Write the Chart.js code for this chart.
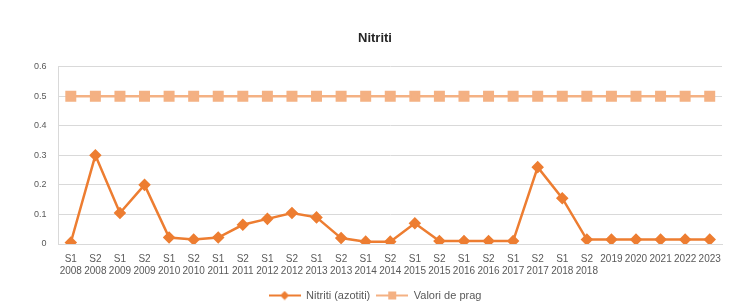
<!DOCTYPE html>
<html>
<head>
<meta charset="utf-8">
<script src="https://cdn.jsdelivr.net/npm/chart.js@4"></script>
<style>
  html, body { margin: 0; padding: 0; background: #fff; }
</style>
</head>
<body>
<canvas id="c" width="736" height="302"></canvas>
<script>
const periods = ['S1', 'S2', 'S1', 'S2', 'S1', 'S2', 'S1', 'S2', 'S1', 'S2', 'S1', 'S2',
  'S1', 'S2', 'S1', 'S2', 'S1', 'S2', 'S1', 'S2', 'S1', 'S2',
  '2019', '2020', '2021', '2022', '2023'];
const years = ['2008', '2008', '2009', '2009', '2010', '2010', '2011', '2011', '2012', '2012',
  '2013', '2013', '2014', '2014', '2015', '2015', '2016', '2016', '2017', '2017', '2018', '2018',
  '', '', '', '', ''];
const nitriti = [0.005, 0.3, 0.105, 0.2, 0.022, 0.015, 0.022, 0.065, 0.085, 0.105, 0.09, 0.02,
  0.008, 0.008, 0.07, 0.01, 0.01, 0.01, 0.01, 0.26, 0.155, 0.015,
  0.015, 0.015, 0.015, 0.015, 0.015];
const valoriPrag = [0.5, 0.5, 0.5, 0.5, 0.5, 0.5, 0.5, 0.5, 0.5, 0.5, 0.5, 0.5, 0.5, 0.5,
  0.5, 0.5, 0.5, 0.5, 0.5, 0.5, 0.5, 0.5, 0.5, 0.5, 0.5, 0.5, 0.5];

const labels = periods.map((p, i) => years[i] ? [p, years[i]] : [p]);

const orange = '#ED7D31';
const salmon = '#F4B183';

// legend icon: line with marker in the middle, like Excel
function legendIcon(color, shape) {
  const cv = document.createElement('canvas');
  cv.width = 32; cv.height = 10;
  const g = cv.getContext('2d');
  g.strokeStyle = color; g.lineWidth = 2;
  g.beginPath(); g.moveTo(0, 5); g.lineTo(32, 5); g.stroke();
  g.fillStyle = color;
  if (shape === 'rect') {
    g.fillRect(12, 1, 8, 8);
  } else {
    g.beginPath(); g.moveTo(16, 0.5); g.lineTo(20.5, 5); g.lineTo(16, 9.5); g.lineTo(11.5, 5); g.closePath(); g.fill();
  }
  return cv;
}

const nitritiIcon = legendIcon(orange, 'rectRot');
const pragIcon = legendIcon(salmon, 'rect');

new Chart(document.getElementById('c'), {
  type: 'line',
  data: {
    labels: labels,
    datasets: [{
      label: 'Nitriti (azotiti)',
      data: nitriti,
      borderColor: orange,
      backgroundColor: orange,
      borderWidth: 2.5,
      pointStyle: 'rectRot',
      pointRadius: 4.5,
      tension: 0,
    }, {
      label: 'Valori de prag',
      data: valoriPrag,
      borderColor: salmon,
      backgroundColor: salmon,
      borderWidth: 2.5,
      pointStyle: 'rect',
      pointRadius: 6,
      tension: 0,
    }]
  },
  options: {
    responsive: false,
    animation: false,
    devicePixelRatio: 1,
    layout: { padding: { top: 31, right: 14, left: 28, bottom: -9 } },
    scales: {
      x: {
        offset: true,
        grid: { display: false },
        border: { color: '#d9d9d9' },
        afterFit: s => { s.height += 6; },
        ticks: {
          autoSkip: false,
          maxRotation: 0,
          color: '#595959',
          font: { family: 'Liberation Sans', size: 10 },
          padding: 1,
        }
      },
      y: {
        min: 0,
        max: 0.6,
        afterFit: s => { s.width -= 6; },
        ticks: {
          stepSize: 0.1,
          color: '#595959',
          font: { family: 'Liberation Sans', size: 9 },
          padding: 12,
        },
        grid: { color: '#d9d9d9', drawTicks: false },
        border: { display: true, color: '#d9d9d9' },
      }
    },
    plugins: {
      title: {
        display: true,
        text: 'Nitriti',
        color: '#262626',
        font: { family: 'Liberation Sans', size: 13, weight: 'bold' },
        padding: { top: 0, bottom: 20 },
      },
      legend: {
        position: 'bottom',
        labels: {
          usePointStyle: true,
          pointStyleWidth: 32,
          color: '#595959',
          font: { family: 'Liberation Sans', size: 11 },
          padding: 6,
          generateLabels: chart => chart.data.datasets.map((ds, i) => ({
            text: ds.label,
            pointStyle: i === 0 ? nitritiIcon : pragIcon,
            fontColor: '#595959',
            datasetIndex: i,
            hidden: false,
            lineWidth: 0,
          })),
        }
      },
      tooltip: { enabled: false },
    }
  }
});
</script>
</body>
</html>
